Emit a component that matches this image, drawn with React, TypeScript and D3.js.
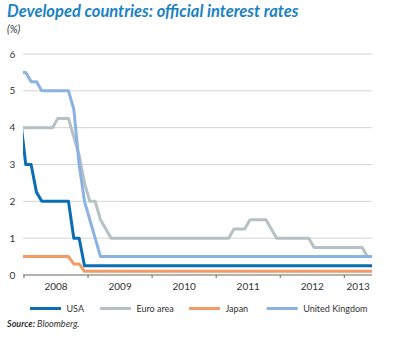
import React from "react";
import * as d3 from "d3";

// Monthly end-of-month values, Dec 2007 .. Jun 2013
const usa = [
  4.25,
  3.0, 3.0, 2.25, 2.0, 2.0, 2.0, 2.0, 2.0, 2.0, 1.0, 1.0, 0.25,
  0.25, 0.25, 0.25, 0.25, 0.25, 0.25, 0.25, 0.25, 0.25, 0.25, 0.25, 0.25,
  0.25, 0.25, 0.25, 0.25, 0.25, 0.25, 0.25, 0.25, 0.25, 0.25, 0.25, 0.25,
  0.25, 0.25, 0.25, 0.25, 0.25, 0.25, 0.25, 0.25, 0.25, 0.25, 0.25, 0.25,
  0.25, 0.25, 0.25, 0.25, 0.25, 0.25, 0.25, 0.25, 0.25, 0.25, 0.25, 0.25,
  0.25, 0.25, 0.25, 0.25, 0.25, 0.25,
];
const euro = [
  4.0,
  4.0, 4.0, 4.0, 4.0, 4.0, 4.0, 4.25, 4.25, 4.25, 3.75, 3.25, 2.5,
  2.0, 2.0, 1.5, 1.25, 1.0, 1.0, 1.0, 1.0, 1.0, 1.0, 1.0, 1.0,
  1.0, 1.0, 1.0, 1.0, 1.0, 1.0, 1.0, 1.0, 1.0, 1.0, 1.0, 1.0,
  1.0, 1.0, 1.0, 1.25, 1.25, 1.25, 1.5, 1.5, 1.5, 1.5, 1.25, 1.0,
  1.0, 1.0, 1.0, 1.0, 1.0, 1.0, 0.75, 0.75, 0.75, 0.75, 0.75, 0.75,
  0.75, 0.75, 0.75, 0.75, 0.5, 0.5,
];
const japan = [
  0.5,
  0.5, 0.5, 0.5, 0.5, 0.5, 0.5, 0.5, 0.5, 0.5, 0.3, 0.3, 0.1,
  0.1, 0.1, 0.1, 0.1, 0.1, 0.1, 0.1, 0.1, 0.1, 0.1, 0.1, 0.1,
  0.1, 0.1, 0.1, 0.1, 0.1, 0.1, 0.1, 0.1, 0.1, 0.1, 0.1, 0.1,
  0.1, 0.1, 0.1, 0.1, 0.1, 0.1, 0.1, 0.1, 0.1, 0.1, 0.1, 0.1,
  0.1, 0.1, 0.1, 0.1, 0.1, 0.1, 0.1, 0.1, 0.1, 0.1, 0.1, 0.1,
  0.1, 0.1, 0.1, 0.1, 0.1, 0.1,
];
const uk = [
  5.5,
  5.5, 5.25, 5.25, 5.0, 5.0, 5.0, 5.0, 5.0, 5.0, 4.5, 3.0, 2.0,
  1.5, 1.0, 0.5, 0.5, 0.5, 0.5, 0.5, 0.5, 0.5, 0.5, 0.5, 0.5,
  0.5, 0.5, 0.5, 0.5, 0.5, 0.5, 0.5, 0.5, 0.5, 0.5, 0.5, 0.5,
  0.5, 0.5, 0.5, 0.5, 0.5, 0.5, 0.5, 0.5, 0.5, 0.5, 0.5, 0.5,
  0.5, 0.5, 0.5, 0.5, 0.5, 0.5, 0.5, 0.5, 0.5, 0.5, 0.5, 0.5,
  0.5, 0.5, 0.5, 0.5, 0.5, 0.5,
];
const years = ["2008", "2009", "2010", "2011", "2012", "2013"];
const yTicks = [0, 1, 2, 3, 4, 5, 6];

const series = [
  { name: "USA", values: usa, color: "#0a6db5" },
  { name: "Euro area", values: euro, color: "#b5c1c4" },
  { name: "Japan", values: japan, color: "#f39a66" },
  { name: "United Kingdom", values: uk, color: "#8cb2e2" },
];

const FONT = "Lato, 'Open Sans', sans-serif";

export default function App() {
  // months since 1 Jan 2008
  const x = d3.scaleLinear().domain([0, 60]).range([24, 344.3]);
  const y = d3.scaleLinear().domain([0, 6]).range([275, 54]);
  const left = 23;
  const right = 372;
  const endMonth = x.invert(right);
  const line = d3
    .line<number>()
    .x((_, i) => x(i - 1 + 0.33))
    .y((d) => y(d));

  const legendX = [30, 100, 189, 266.7];

  return (
    <svg
      width={395}
      height={338}
      style={{ position: "absolute", left: 0, top: 0, background: "#fff" }}
    >
      <defs>
        <clipPath id="plot">
          <rect x={left} y={40} width={right - left} height={240} />
        </clipPath>
      </defs>
      <text
        x={7}
        y={17}
        fontFamily={FONT}
        fontWeight={700}
        fontStyle="italic"
        fontSize={16.5}
        fill="#1b82c4"
      >
        Developed countries: official interest rates
      </text>
      <text x={7} y={33} fontFamily={FONT} fontStyle="italic" fontSize={10.5} fill="#333">
        (%)
      </text>
      {yTicks.map((t) => (
        <g key={t}>
          {t > 0 && (
            <line x1={left} x2={right} y1={y(t)} y2={y(t)} stroke="#d4d4d4" strokeWidth={1} />
          )}
          <text
            x={12.5}
            y={y(t) + 3.5}
            textAnchor="middle"
            fontFamily={FONT}
            fontSize={10}
            fill="#333"
          >
            {t}
          </text>
        </g>
      ))}
      <g clipPath="url(#plot)">
        {series.map((s) => (
          <path
            key={s.name}
            d={line(s.values) || ""}
            fill="none"
            stroke={s.color}
            strokeWidth={3}
            strokeLinejoin="round"
          />
        ))}
      </g>
      <line x1={left} x2={right} y1={y(0)} y2={y(0)} stroke="#666" strokeWidth={1} />
      {years.map((yr, k) => {
        const start = k * 12;
        const end = Math.min(start + 12, endMonth);
        return (
          <g key={yr}>
            <line x1={x(start)} x2={x(start)} y1={y(0)} y2={y(0) + 3} stroke="#666" strokeWidth={1} />
            <text
              x={x((start + end) / 2)}
              y={290}
              textAnchor="middle"
              fontFamily={FONT}
              fontSize={10}
              fill="#333"
            >
              {yr}
            </text>
          </g>
        );
      })}
      {series.map((s, k) => (
        <g key={s.name}>
          <line
            x1={legendX[k]}
            x2={legendX[k] + 31}
            y1={308.5}
            y2={308.5}
            stroke={s.color}
            strokeWidth={3}
          />
          <text
            x={legendX[k] + 36.5}
            y={311.5}
            fontFamily={FONT}
            fontSize={9}
            fill="#333"
          >
            {s.name}
          </text>
        </g>
      ))}
      <text x={7} y={327} fontFamily={FONT} fontSize={9} fill="#333" fontStyle="italic">
        <tspan fontWeight={700}>Source:</tspan> Bloomberg.
      </text>
    </svg>
  );
}
